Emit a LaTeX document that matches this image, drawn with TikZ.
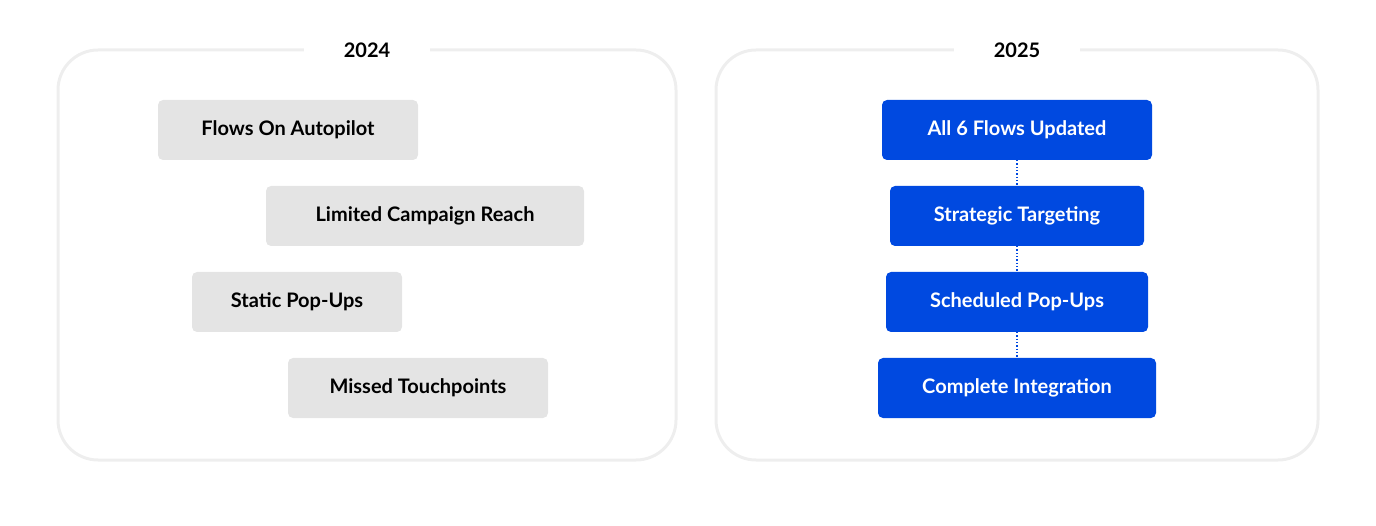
\documentclass[tikz,border=0pt]{standalone}
\usepackage{fontspec}
\setmainfont{Lato}
\usetikzlibrary{positioning}
\definecolor{panelline}{HTML}{EEEEEE}
\definecolor{oldfill}{HTML}{E4E4E4}
\definecolor{newfill}{HTML}{0049E0}
\tikzset{
  panel/.style={draw=panelline, line width=3pt, rounded corners=40pt},
  year/.style={fill=white, inner xsep=40pt, font=\fontsize{20}{24}\selectfont\bfseries},
  oldbox/.style={fill=oldfill, rounded corners=5pt, minimum height=60pt, inner xsep=0pt,
    font=\fontsize{20}{24}\selectfont\bfseries, text=black},
  newbox/.style={fill=newfill, rounded corners=5pt, minimum height=60pt, inner xsep=0pt,
    font=\fontsize{20}{24}\selectfont\bfseries, text=white},
  link/.style={draw=newfill, line width=1.3pt, dotted}
}
\begin{document}
\begin{tikzpicture}[x=1pt,y=-1pt]
    \useasboundingbox (0,0) rectangle (1376,526);

    \draw[panel] (58,50) rectangle (676,460);
    \draw[panel] (716,50) rectangle (1318,460);
    \node[year] (y2024) at (367,50) {2024};
    \node[year] (y2025) at (1017,50) {2025};

    \node[oldbox, minimum width=260pt] (autopilot) at (288,130) {Flows On Autopilot};
    \node[oldbox, minimum width=318pt] (reach) at (425,216) {Limited Campaign Reach};
    \node[oldbox, minimum width=210pt] (static) at (297,302) {Static Pop-Ups};
    \node[oldbox, minimum width=260pt] (missed) at (418,388) {Missed Touchpoints};

    \node[newbox, minimum width=270pt] (updated) at (1017,130) {All 6 Flows Updated};
    \node[newbox, minimum width=254pt] (targeting) at (1017,216) {Strategic Targeting};
    \node[newbox, minimum width=262pt] (scheduled) at (1017,302) {Scheduled Pop-Ups};
    \node[newbox, minimum width=278pt] (integration) at (1017,388) {Complete Integration};

    \draw[link] (updated) -- (targeting);
    \draw[link] (targeting) -- (scheduled);
    \draw[link] (scheduled) -- (integration);
\end{tikzpicture}
\end{document}
